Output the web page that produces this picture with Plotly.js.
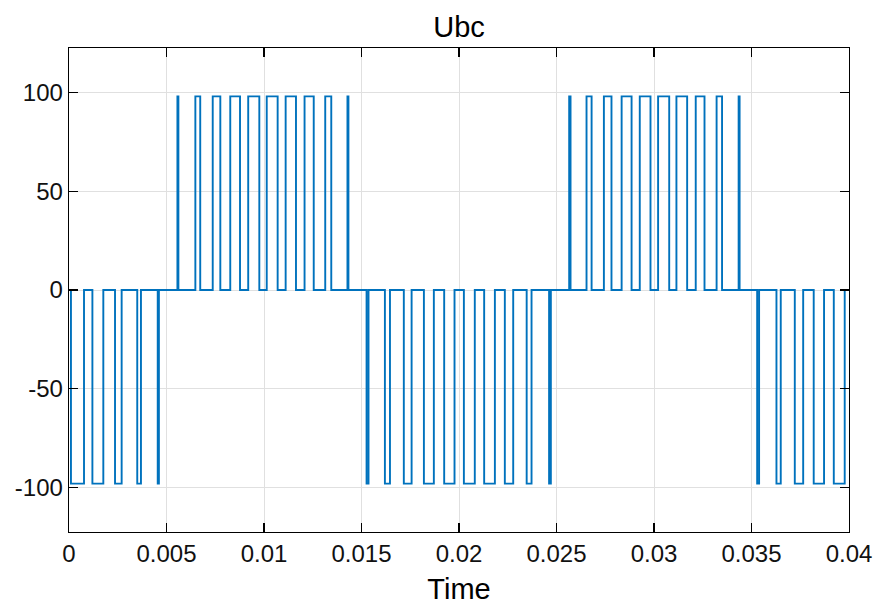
<!DOCTYPE html>
<html>
<head>
<meta charset="utf-8">
<script src="https://cdn.plot.ly/plotly-3.0.1.min.js"></script>
<style>html,body{margin:0;padding:0;background:#fff;}#chart{width:879px;height:605px;}</style>
</head>
<body>
<div id="chart"></div>
<script>
// Pulse edges (time in s), one entry per pulse
const pulseStart = [
  0.00010, 0.00120, 0.00236, 0.00350, 0.00455,
  0.00556, 0.00648, 0.00737, 0.00827, 0.00919, 0.01014, 0.01111, 0.01208, 0.01314, 0.01428,
  0.01526, 0.01620, 0.01717, 0.01820, 0.01924, 0.02025, 0.02129, 0.02235, 0.02347, 0.02462,
  0.02565, 0.02654, 0.02743, 0.02834, 0.02927, 0.03021, 0.03115, 0.03214, 0.03321, 0.03434,
  0.03529, 0.03628, 0.03722, 0.03819, 0.03922
];
const pulseEnd = [
  0.00077, 0.00176, 0.00270, 0.00369, 0.00461,
  0.00561, 0.00673, 0.00776, 0.00877, 0.00976, 0.01070, 0.01164, 0.01255, 0.01345, 0.01433,
  0.01536, 0.01646, 0.01757, 0.01871, 0.01977, 0.02081, 0.02184, 0.02278, 0.02372, 0.02471,
  0.02572, 0.02680, 0.02782, 0.02885, 0.02982, 0.03078, 0.03170, 0.03259, 0.03349, 0.03439,
  0.03539, 0.03650, 0.03765, 0.03872, 0.03978
];
const pulseLevel = [
  -98, -98, -98, -98, -98,
  98, 98, 98, 98, 98, 98, 98, 98, 98, 98,
  -98, -98, -98, -98, -98, -98, -98, -98, -98, -98,
  98, 98, 98, 98, 98, 98, 98, 98, 98, 98,
  -98, -98, -98, -98, -98
];
const baseLevel = 0;
const tStart = 0, tEnd = 0.04;
const xTickVals = [0, 0.005, 0.01, 0.015, 0.02, 0.025, 0.03, 0.035, 0.04];
const xTickText = ['0', '0.005', '0.01', '0.015', '0.02', '0.025', '0.03', '0.035', '0.04'];
const yTickVals = [-100, -50, 0, 50, 100];
const yTickText = ['-100', '-50', '0', '50', '100'];

const xs = [tStart], ys = [baseLevel];
for (let i = 0; i < pulseStart.length; i++) {
  xs.push(pulseStart[i]); ys.push(pulseLevel[i]);
  xs.push(pulseEnd[i]); ys.push(baseLevel);
}
xs.push(tEnd); ys.push(baseLevel);

const font = 'Liberation Sans, Arial, Helvetica, sans-serif';
const trace = {
  x: xs, y: ys, type: 'scatter', mode: 'lines',
  line: {color: '#0072BD', width: 1.9, shape: 'hv'},
  hoverinfo: 'skip'
};
const layout = {
  width: 879, height: 605,
  margin: {l: 69, r: 30, t: 48, b: 73},
  paper_bgcolor: '#ffffff', plot_bgcolor: '#ffffff',
  showlegend: false,
  font: {family: font, color: '#262626', size: 24},
  title: {text: 'Ubc', x: 0.5, xref: 'paper', xanchor: 'center', y: 0.955, yref: 'container', yanchor: 'middle',
          font: {family: font, size: 29, color: '#000000'}},
  xaxis: {
    range: [0, 0.04], tickvals: xTickVals, ticktext: xTickText,
    showgrid: true, gridcolor: '#e0e0e0', gridwidth: 1,
    zeroline: false, showline: true, linecolor: '#000000', linewidth: 1.3, mirror: 'ticks',
    ticks: 'inside', ticklen: 9, tickwidth: 1.3, tickcolor: '#000000',
    tickfont: {family: font, size: 24, color: '#111111'},
    title: {text: 'Time', font: {family: font, size: 29, color: '#000000'}, standoff: 12}
  },
  yaxis: {
    range: [-122.5, 122.5], tickvals: yTickVals, ticktext: yTickText,
    showgrid: true, gridcolor: '#e0e0e0', gridwidth: 1,
    zeroline: false, showline: true, linecolor: '#000000', linewidth: 1.3, mirror: 'ticks',
    ticks: 'inside', ticklen: 9, tickwidth: 1.3, tickcolor: '#000000',
    tickfont: {family: font, size: 24, color: '#111111'}
  }
};
Plotly.newPlot('chart', [trace], layout, {displayModeBar: false, staticPlot: true});
</script>
</body>
</html>
